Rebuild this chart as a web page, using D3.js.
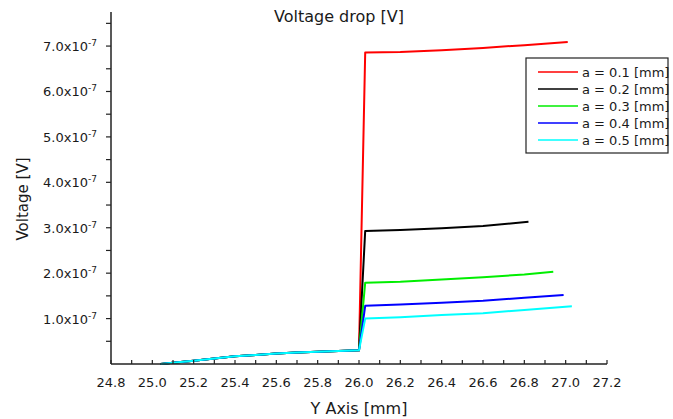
<!DOCTYPE html>
<html><head><meta charset="utf-8">
<script src="https://cdn.jsdelivr.net/npm/d3@7"></script>
<style>body{margin:0;background:#fff;} text{font-family:"DejaVu Sans",sans-serif;fill:#1a1a1a;}</style>
</head><body>
<svg id="c" width="673" height="419"></svg>
<script>
// shared rising part (x in mm, V in units of 1e-7)
const baseX = [25.04, 25.1, 25.2, 25.3, 25.4, 25.5, 25.6, 25.7, 25.8, 25.9, 26.0];
const baseV = [0, 0.03, 0.07, 0.12, 0.17, 0.20, 0.23, 0.255, 0.27, 0.285, 0.30];
// after jump
const x01 = [26.03, 26.2, 26.4, 26.6, 26.8, 27.01];
const v01 = [6.86, 6.87, 6.91, 6.96, 7.02, 7.09];
const x02 = [26.03, 26.2, 26.4, 26.6, 26.82];
const v02 = [2.93, 2.95, 2.99, 3.04, 3.13];
const x03 = [26.03, 26.2, 26.4, 26.6, 26.8, 26.94];
const v03 = [1.79, 1.81, 1.86, 1.91, 1.97, 2.03];
const x04 = [26.03, 26.2, 26.4, 26.6, 26.8, 26.99];
const v04 = [1.28, 1.31, 1.35, 1.39, 1.46, 1.52];
const x05 = [26.03, 26.2, 26.4, 26.6, 26.8, 27.03];
const v05 = [1.00, 1.03, 1.08, 1.12, 1.19, 1.27];
const seriesNames = ["a = 0.1 [mm]", "a = 0.2 [mm]", "a = 0.3 [mm]", "a = 0.4 [mm]", "a = 0.5 [mm]"];
const seriesColors = ["#ff0000", "#000000", "#00ee00", "#0000ff", "#00ffff"];
const xTicks = [24.8, 25.0, 25.2, 25.4, 25.6, 25.8, 26.0, 26.2, 26.4, 26.6, 26.8, 27.0, 27.2];
const yTicks = [1, 2, 3, 4, 5, 6, 7];

const svg = d3.select("#c");
const x = d3.scaleLinear().domain([24.8, 27.2]).range([111, 607]);
const y = d3.scaleLinear().domain([0, 7.75]).range([364, 12]);

const afterX = [x01, x02, x03, x04, x05];
const afterV = [v01, v02, v03, v04, v05];
const series = afterX.map((ax, i) => {
  const pts = baseX.map((bx, j) => [bx, baseV[j]]);
  ax.forEach((xx, j) => pts.push([xx, afterV[i][j]]));
  return pts;
});

const line = d3.line().x(d => x(d[0])).y(d => y(d[1]));
series.forEach((pts, i) => {
  svg.append("path").attr("d", line(pts)).attr("fill", "none")
    .attr("stroke", seriesColors[i]).attr("stroke-width", 2).attr("stroke-linejoin", "round");
});

// X axis: ticks pointing inward (upward)
const xMinor = d3.range(24.8, 27.2001, 0.1);
const gx = svg.append("g");
gx.append("line").attr("x1", 111).attr("x2", 607).attr("y1", 364).attr("y2", 364).attr("stroke", "#222").attr("stroke-width", 1.5);
gx.selectAll(".mn").data(xMinor).enter().append("line")
  .attr("x1", d => x(d)).attr("x2", d => x(d)).attr("y1", 364).attr("y2", 360)
  .attr("stroke", "#222").attr("stroke-width", 1.2);
gx.selectAll(".lb").data(xTicks).enter().append("text")
  .attr("x", d => x(d)).attr("y", 387).attr("text-anchor", "middle").attr("font-size", 13)
  .text(d => d.toFixed(1));

// Y axis: ticks outward (left)
const yMinor = d3.range(0.5, 7.6, 0.5);
const gy = svg.append("g");
gy.append("line").attr("x1", 111).attr("x2", 111).attr("y1", 12).attr("y2", 364).attr("stroke", "#222").attr("stroke-width", 1.5);
gy.selectAll(".mn").data(yMinor).enter().append("line")
  .attr("x1", 106).attr("x2", 111).attr("y1", d => y(d)).attr("y2", d => y(d))
  .attr("stroke", "#222").attr("stroke-width", 1.2);
const yl = gy.selectAll(".lb").data(yTicks).enter().append("text")
  .attr("x", 97).attr("y", d => y(d) + 5).attr("text-anchor", "end").attr("font-size", 13);
yl.append("tspan").text(d => d.toFixed(1) + "x10");
yl.append("tspan").attr("dy", -5).attr("font-size", 9).text("-7");

// Titles
svg.append("text").attr("x", 339).attr("y", 22).attr("text-anchor", "middle").attr("font-size", 16).text("Voltage drop [V]");
svg.append("text").attr("x", 359).attr("y", 414).attr("text-anchor", "middle").attr("font-size", 16).text("Y Axis [mm]");
svg.append("text").attr("transform", "translate(28,199) rotate(-90)").attr("text-anchor", "middle").attr("font-size", 15).text("Voltage [V]");

// Legend
const lg = svg.append("g");
lg.append("rect").attr("x", 526).attr("y", 58).attr("width", 142).attr("height", 95)
  .attr("fill", "#fff").attr("stroke", "#222").attr("stroke-width", 1.2);
seriesNames.forEach((n, i) => {
  const yy = 72 + i * 17;
  lg.append("line").attr("x1", 538).attr("x2", 578).attr("y1", yy).attr("y2", yy)
    .attr("stroke", seriesColors[i]).attr("stroke-width", 1.5);
  lg.append("text").attr("x", 582).attr("y", yy + 4.5).attr("font-size", 13).text(n);
});
</script>
</body></html>
